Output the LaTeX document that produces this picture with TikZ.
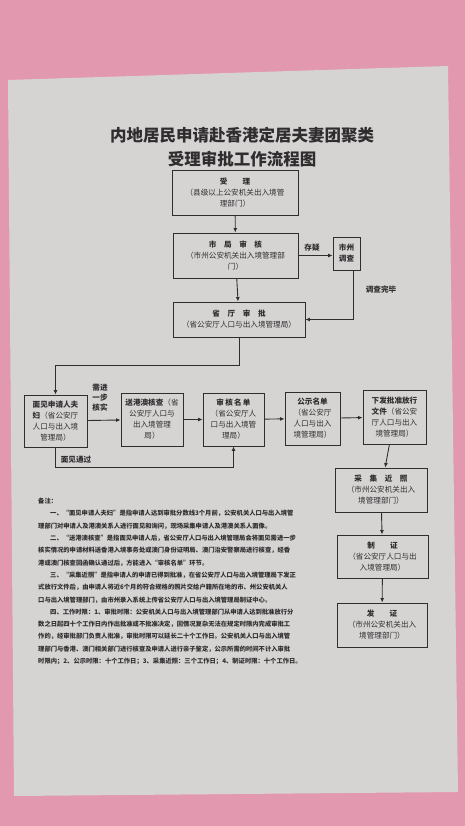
\documentclass[tikz,border=0pt]{standalone}
\usepackage{fontspec}
\newfontfamily\cjk{Noto Sans CJK SC}
\usetikzlibrary{arrows.meta,positioning}
\definecolor{fabric}{RGB}{226,152,174}
\definecolor{paper}{RGB}{214,212,211}
\definecolor{ink}{RGB}{48,45,47}

\begin{document}
\begin{tikzpicture}[
  x=1pt, y=-1pt,
  proc/.style={draw=ink, fill=paper, line width=0.9pt, align=center, inner sep=1pt, text=ink,
    font=\cjk\fontsize{7.6}{11}\selectfont},
  lbl/.style={text=ink, align=center, inner sep=1pt, font=\cjk\bfseries\fontsize{7.6}{10}\selectfont},
  flow/.style={-{Latex[length=4.5pt,width=4pt]}, draw=ink, line width=0.9pt},
  >=latex
]
  \useasboundingbox (0,0) rectangle (465,826);

  % photo background
  \fill[fabric] (0,0) rectangle (465,826);
  \fill[paper] (8,80) -- (448,66) -- (458,792) -- (14,796) -- cycle;

  % title
  \node[text=ink, font=\cjk\bfseries\fontsize{16.5}{24}\selectfont, align=center] (title) at (242,147)
    {内地居民申请赴香港定居夫妻团聚类\\受理审批工作流程图};

  % upper chain
  \node[proc, minimum width=126, minimum height=45] (shouli) at (235,192.5)
    {\textbf{受\qquad 理}\\（县级以上公安机关出入境管\\理部门）};
  \node[proc, minimum width=125, minimum height=45] (shiju) at (235.5,255.5)
    {\textbf{市\quad 局\quad 审\quad 核}\\（市州公安机关出入境管理部\\门）};
  \node[proc, minimum width=27, minimum height=33] (shizhou) at (346.5,253.5)
    {\textbf{市州}\\\textbf{调查}};
  \node[proc, minimum width=132, minimum height=35] (shengting) at (239,319.5)
    {\textbf{省\quad 厅\quad 审\quad 批}\\（省公安厅人口与出入境管理局）};

  % middle row
  \node[proc, minimum width=63, minimum height=52] (mianjian) at (55.5,421)
    {\textbf{面见申请人夫}\\\textbf{妇}（省公安厅\\人口与出入境\\管理局）};
  \node[proc, minimum width=62, minimum height=53] (songgang) at (152,419.5)
    {\textbf{送港澳核查}（省\\公安厅人口与\\出入境管理\\局）};
  \node[proc, minimum width=61, minimum height=53] (shenhe) at (233.5,419.5)
    {\textbf{审\,核\,名\,单}\\（省公安厅人\\口与出入境管\\理局）};
  \node[proc, minimum width=55, minimum height=53] (gongshi) at (312.5,418.5)
    {\textbf{公示名单}\\（省公安厅\\人口与出入\\境管理局）};
  \node[proc, minimum width=63, minimum height=54] (xiafa) at (394.5,417)
    {\textbf{下发批准放行}\\\textbf{文件}（省公安\\厅人口与出入\\境管理局）};

  % right column
  \node[proc, minimum width=92, minimum height=44] (caiji) at (381,490)
    {\textbf{采\quad 集\quad 近\quad 照}\\（市州公安机关出入\\境管理部门）};
  \node[proc, minimum width=91, minimum height=43] (zhizheng) at (382.5,556.5)
    {\textbf{制\qquad 证}\\（省公安厅人口与出\\入境管理局）};
  \node[proc, minimum width=90, minimum height=44] (fazheng) at (382,625)
    {\textbf{发\qquad 证}\\（市州公安机关出入\\境管理部门）};

  % labels
  \node[lbl] (cunyi) at (312,248) {存疑};
  \node[lbl] (wanbi) at (381,290) {调查完毕};
  \node[lbl] (hesh) at (100,398) {需进\\一步\\核实};
  \node[lbl] (tongguo) at (76,460) {面见通过};

  % connectors
  \draw[flow] (shouli) -- (shiju);
  \draw[flow] (shiju) -- (shengting);
  \draw[flow] (shiju.east) -- (shizhou.west |- shiju.east);
  \draw[flow] ([xshift=7pt]shizhou.south) |- (shengting.east);
  \draw[flow] (shengting.south) -- ++(0,28) -| (mianjian.north);
  \draw[flow] (mianjian) -- (songgang);
  \draw[flow] (songgang) -- (shenhe);
  \draw[flow] (shenhe) -- (gongshi);
  \draw[flow] (gongshi) -- (xiafa);
  \draw[flow] (mianjian.south) -- ++(0,20) -| (shenhe.south);
  \draw[flow] (xiafa) -- (caiji);
  \draw[flow] (caiji) -- (zhizheng);
  \draw[flow] (zhizheng) -- (fazheng);

  % notes
  \node[anchor=north west, text=ink, align=left, inner sep=0pt,
    font=\cjk\bfseries\fontsize{6.3}{12.3}\selectfont] (notes) at (38,498)
    {备注：\\
    \hspace*{12pt}一、“面见申请人夫妇”是指申请人达到审批分数线3个月前，公安机关人口与出入境管\\
    理部门对申请人及港澳关系人进行面见和询问，现场采集申请人及港澳关系人面像。\\
    \hspace*{12pt}二、“送港澳核查”是指面见申请人后，省公安厅人口与出入境管理局会将面见需进一步\\
    核实情况的申请材料送香港入境事务处或澳门身份证明局、澳门治安警察局进行核查，经香\\
    港或澳门核查回函确认通过后，方能进入“审核名单”环节。\\
    \hspace*{12pt}三、“采集近照”是指申请人的申请已得到批准，在省公安厅人口与出入境管理局下发正\\
    式放行文件后，由申请人将近6个月的符合规格的照片交给户籍所在地的市、州公安机关人\\
    口与出入境管理部门，由市州录入系统上传省公安厅人口与出入境管理局制证中心。\\
    \hspace*{12pt}四、工作时限：1、审批时限：公安机关人口与出入境管理部门从申请人达到批准放行分\\
    数之日起四十个工作日内作出批准或不批准决定，因情况复杂无法在规定时限内完成审批工\\
    作的，经审批部门负责人批准，审批时限可以延长二十个工作日。公安机关人口与出入境管\\
    理部门与香港、澳门相关部门进行核查及申请人进行亲子鉴定，公示所需的时间不计入审批\\
    时限内；2、公示时限：十个工作日；3、采集近照：三个工作日；4、制证时限：十个工作日。};

\end{tikzpicture}
\end{document}
